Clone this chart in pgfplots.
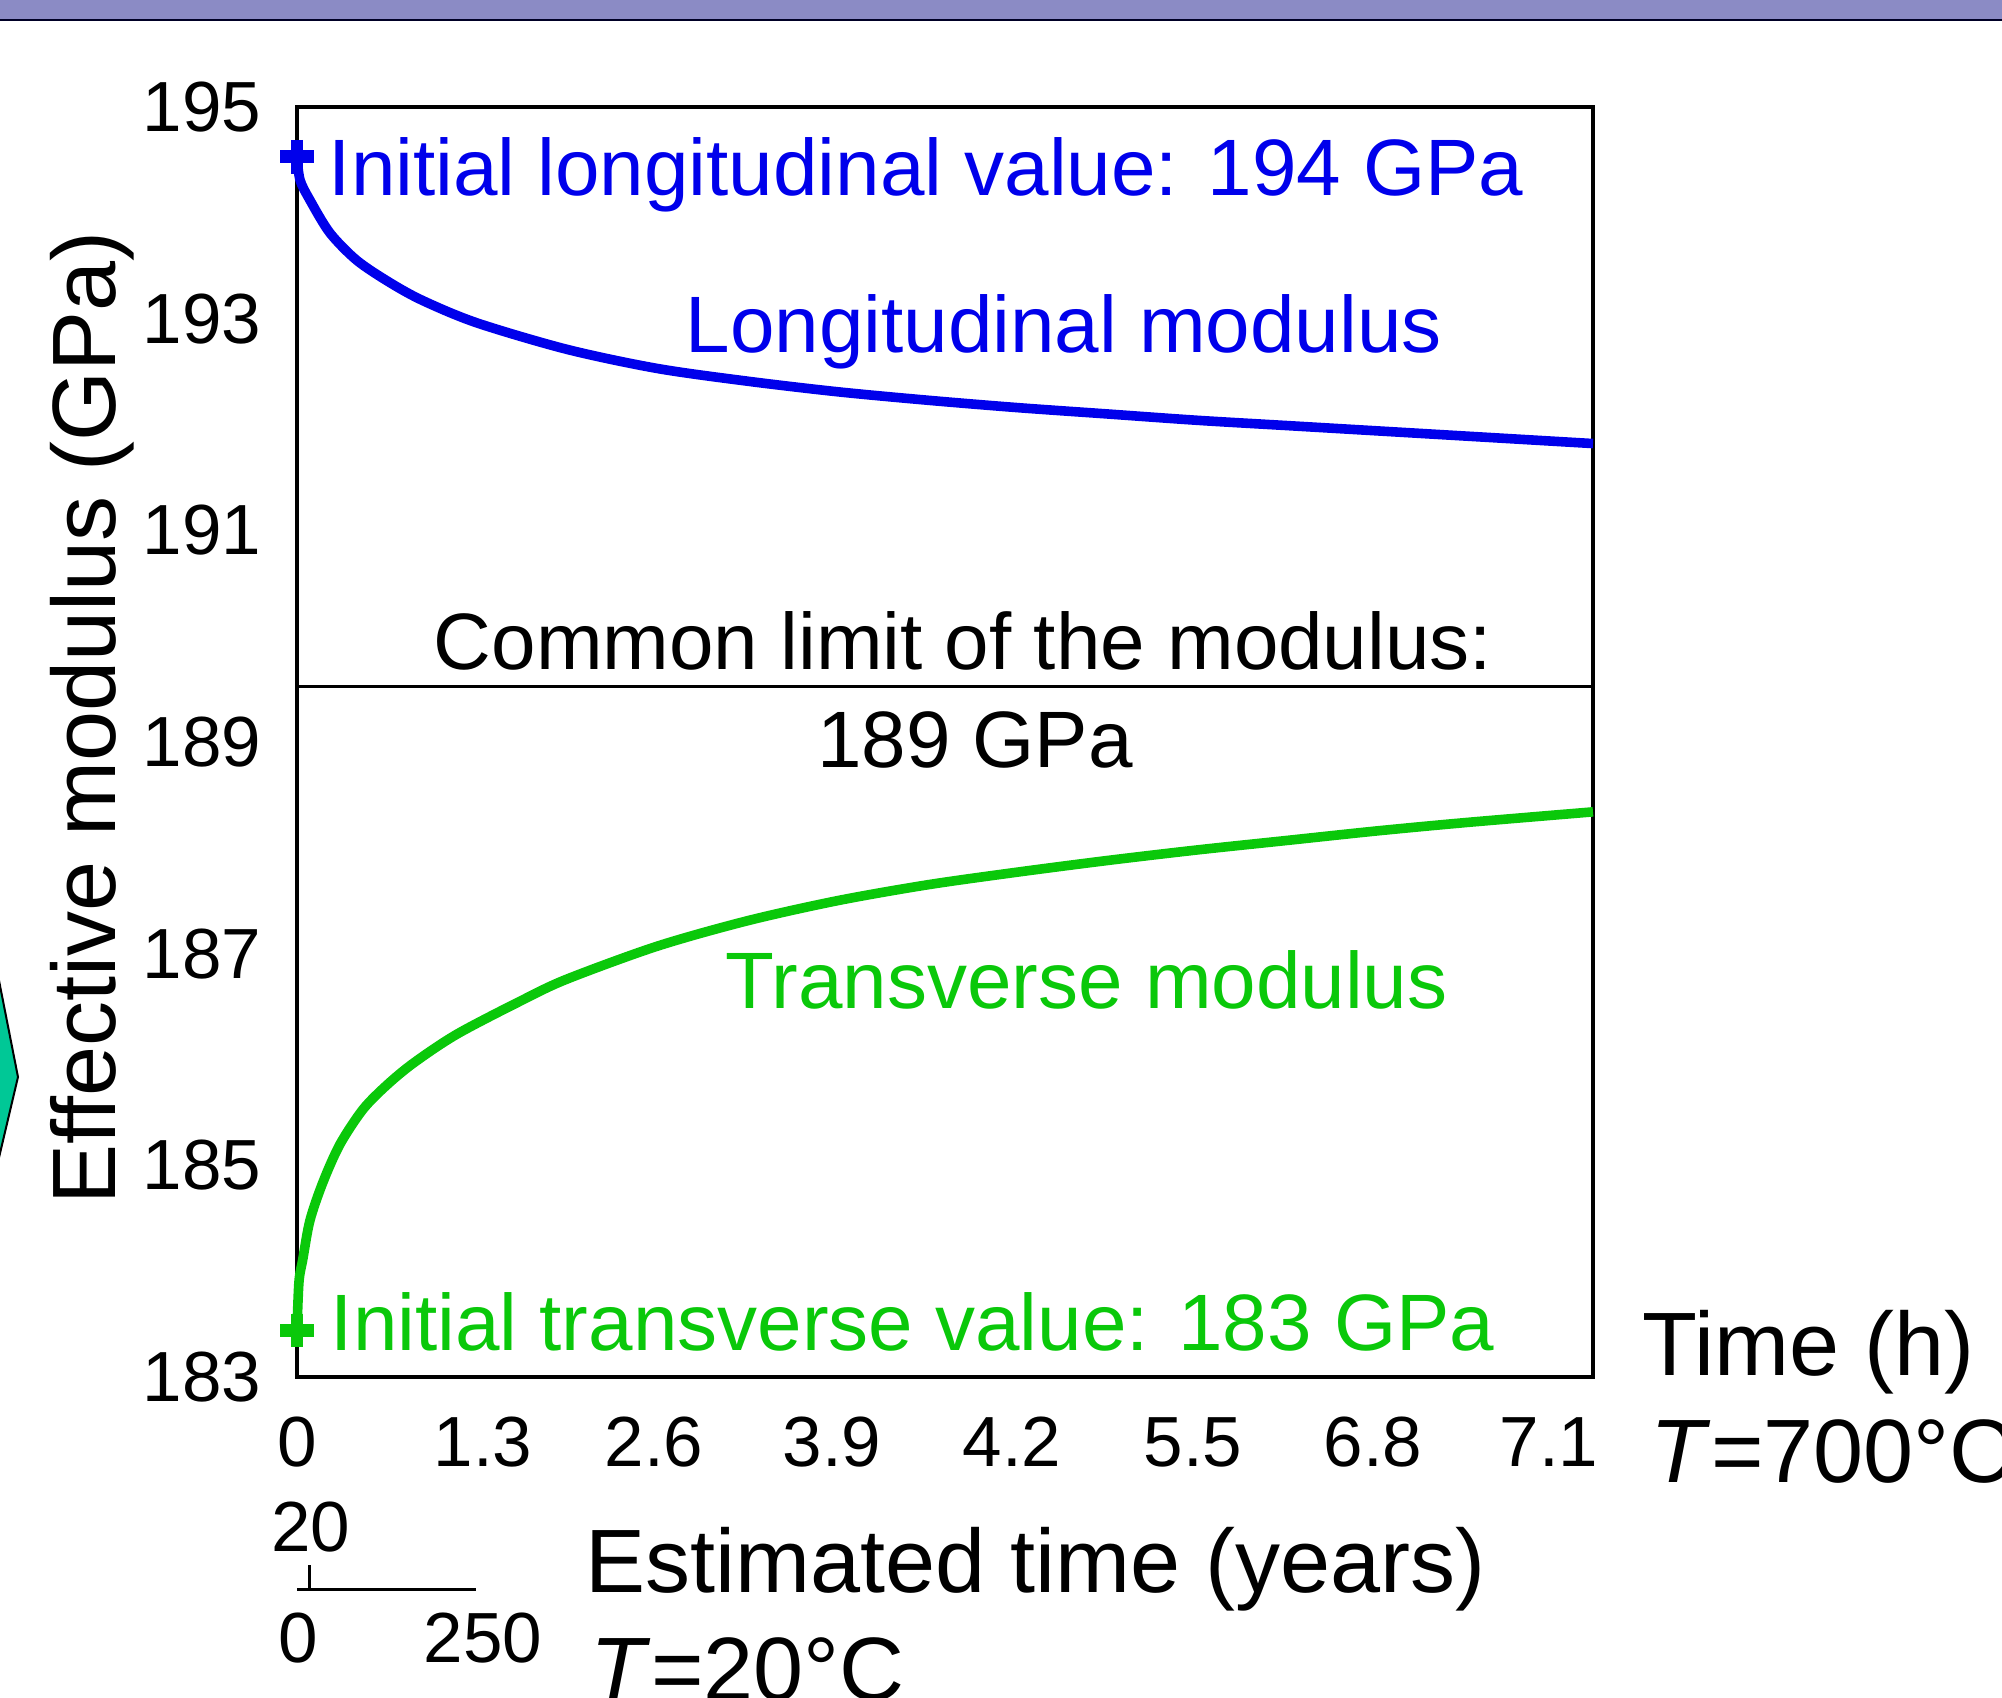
\documentclass[border=0pt]{standalone}
\usepackage{pgfplots}
\pgfplotsset{compat=1.18}
\usepackage{fontspec}
\setmainfont{Liberation Sans}
\definecolor{cblue}{RGB}{0,0,235}
\definecolor{cgreen}{RGB}{10,200,10}
\definecolor{barpurple}{RGB}{139,139,197}
\definecolor{arrowteal}{RGB}{0,200,150}
\begin{document}
\begin{tikzpicture}
\useasboundingbox (-74.25pt,-80pt) rectangle (426.25pt,344.25pt);
% top band
\fill[barpurple] (-75pt,339.5pt) rectangle (427pt,345pt);
\fill[black!85!blue] (-75pt,339pt) rectangle (427pt,339.6pt);
% left decoration
\filldraw[fill=arrowteal, draw=black, line width=0.5pt] (-76pt,106.75pt) -- (-69.75pt,75pt) -- (-76pt,48.5pt);
\begin{axis}[
  at={(0pt,0pt)}, anchor=south west,
  width=324pt, height=317.5pt, scale only axis,
  xmin=0, xmax=7.2, ymin=183, ymax=195,
  xtick={0,1.033,1.983,2.972,3.972,4.978,5.978,6.956},
  xticklabels={0,1.3,2.6,3.9,4.2,5.5,6.8,7.1},
  ytick={183,185,187,189,191,193,195},
  major tick length=0pt, minor tick num=0,
  axis line style={line width=1pt},
  clip=false,
  /pgf/number format/assume math mode=true,
  tick label style={font=\fontsize{17.75}{20}\selectfont},
  xticklabel style={anchor=center, inner sep=0pt, yshift=-16.25pt},
  yticklabel style={anchor=east, inner sep=0pt, xshift=-8.75pt},
]
\addplot[cblue, line width=2.4pt, smooth, line join=round] coordinates {
(0,194.53) (0.017,194.31) (0.072,194.12) (0.183,193.81) (0.333,193.55) (0.517,193.34)
(0.700,193.17) (1.0,192.96) (1.5,192.71) (2.0,192.53) (2.5,192.41) (3.0,192.31)
(3.5,192.23) (4.0,192.16) (4.5,192.10) (5.0,192.04) (5.5,191.99) (6.0,191.94)
(6.5,191.89) (7.2,191.82)};
\addplot[cgreen, line width=2.4pt, smooth, line join=round] coordinates {
(0,183.44) (0.011,183.90) (0.033,184.12) (0.072,184.48) (0.144,184.84) (0.239,185.20)
(0.367,185.53) (0.5,185.76) (0.65,185.97) (0.889,186.24) (1.25,186.56) (1.5,186.76)
(2.0,187.07) (2.5,187.31) (3.0,187.50) (3.5,187.65) (4.0,187.77) (4.5,187.88)
(5.0,187.98) (5.5,188.07) (6.0,188.16) (6.5,188.24) (7.2,188.34)};
\addplot[black, line width=0.75pt] coordinates {(0,189.52) (7.2,189.52)};
\addplot[cblue, only marks, mark=+, mark size=4.2pt, mark options={line width=3.2pt}] coordinates {(0,194.53)};
\addplot[cgreen, only marks, mark=+, mark size=4.2pt, mark options={line width=3.2pt}] coordinates {(0,183.44)};
\end{axis}
% in-plot texts
\node[anchor=base west, inner sep=0pt, text=cblue, font=\fontsize{20}{24}\selectfont] at (7.75pt,295.5pt) {Initial longitudinal value: 194 GPa};
\node[anchor=base west, inner sep=0pt, text=cblue, font=\fontsize{20}{24}\selectfont] at (97pt,256.25pt) {Longitudinal modulus};
\node[anchor=base, inner sep=0pt, font=\fontsize{20}{24}\selectfont] at (166.5pt,177pt) {Common limit of the modulus:};
\node[anchor=base, inner sep=0pt, font=\fontsize{20}{24}\selectfont] at (169.5pt,152.5pt) {189 GPa};
\node[anchor=base west, inner sep=0pt, text=cgreen, font=\fontsize{20}{24}\selectfont] at (107pt,92.25pt) {Transverse modulus};
\node[anchor=base west, inner sep=0pt, text=cgreen, font=\fontsize{20}{24}\selectfont] at (8.25pt,6.75pt) {Initial transverse value: 183 GPa};
% axis labels
\node[rotate=90, inner sep=0pt, font=\fontsize{22.5}{26}\selectfont] at (-51.25pt,164.75pt) {Effective modulus (GPa)};
\node[anchor=base west, inner sep=0pt, font=\fontsize{22.5}{26}\selectfont] at (336.25pt,0.5pt) {Time (h)};
\node[anchor=base west, inner sep=0pt, font=\fontsize{22.5}{26}\selectfont] at (338.25pt,-26.25pt) {\textit{T}=700°C};
\node[anchor=base west, inner sep=0pt, font=\fontsize{22.5}{26}\selectfont] at (72pt,-53.75pt) {Estimated time (years)};
\node[anchor=base west, inner sep=0pt, font=\fontsize{22.5}{26}\selectfont] at (73.25pt,-80.75pt) {\textit{T}=20°C};
% small scale bar
\node[inner sep=0pt, font=\fontsize{17.75}{20}\selectfont] at (3.5pt,-37.5pt) {20};
\draw[line width=0.75pt] (0pt,-53pt) -- (44.75pt,-53pt);
\draw[line width=0.75pt] (3pt,-53pt) -- (3pt,-47pt);
\node[inner sep=0pt, font=\fontsize{17.75}{20}\selectfont] at (0.25pt,-65.25pt) {0};
\node[inner sep=0pt, font=\fontsize{17.75}{20}\selectfont] at (46.5pt,-65.25pt) {250};
\end{tikzpicture}
\end{document}
